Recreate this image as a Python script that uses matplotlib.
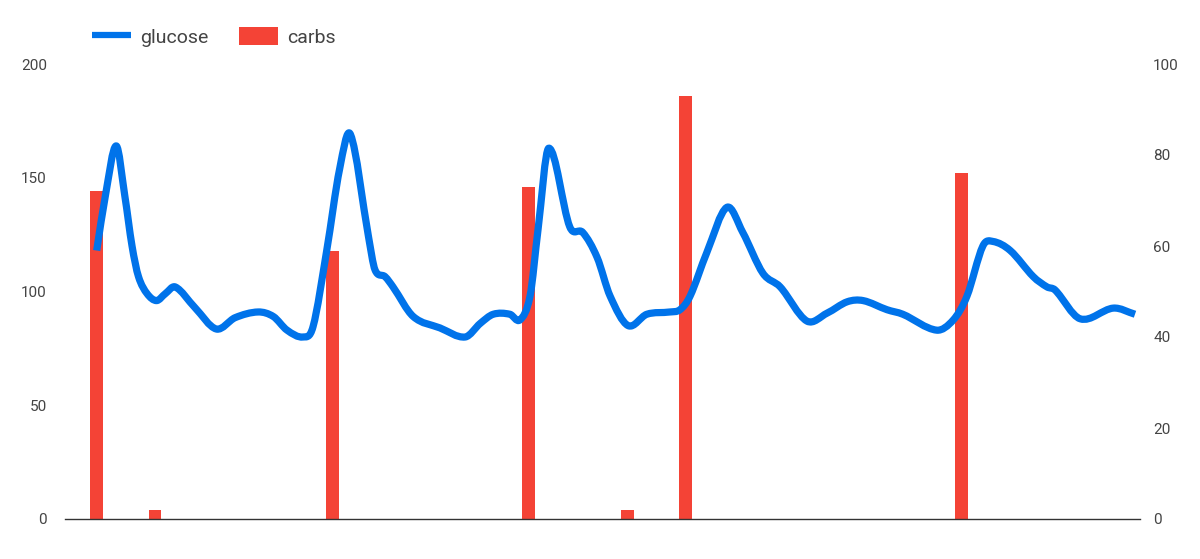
import matplotlib
matplotlib.use("Agg")
import matplotlib.pyplot as plt
from matplotlib.path import Path
from matplotlib.patches import PathPatch, Patch
from matplotlib.lines import Line2D
import numpy as np

plt.rcParams['font.family'] = ['Roboto', 'DejaVu Sans']

# ---- data ----
glucose_minutes = [0, 12, 27, 39, 49, 58, 70, 83, 95, 109, 136, 166, 192, 224, 245,
                   264, 286, 300, 319, 337, 352, 377, 386, 400, 411, 439, 476,
                   511, 532, 550, 573, 587, 601, 612, 627, 656, 674, 694, 712,
                   737, 763, 795, 809, 823, 846, 874, 896, 924, 948, 985, 1013, 1041,
                   1063, 1096, 1118, 1165, 1188, 1207, 1229, 1243, 1267, 1299, 1318,
                   1329, 1364, 1410, 1440]
glucose_values = [118, 142, 164, 142, 120, 106.5, 99, 96, 99, 102, 93, 83.5, 88.5, 91, 89,
                  83, 80, 84.5, 118, 154, 169, 124, 109.5, 106.5, 102, 89, 84,
                  80, 86, 90, 90, 87.5, 98, 127, 163, 128.5, 126, 115, 98,
                  85, 90, 91, 92, 98, 117, 137, 126, 108, 102, 87, 90.5, 95.5,
                  96, 92, 90, 83, 87.5, 98, 120, 122, 118, 106.5, 102,
                  100.7, 88, 92.7, 90]

carbs_minutes = [0, 81, 327, 599, 736, 817, 1199]
carbs_values = [72, 2, 59, 73, 2, 93, 76]

BLUE = '#0073EA'
RED = '#F44336'
TEXT = '#444444'

fig = plt.figure(figsize=(12, 5.59), dpi=100)
ax = fig.add_axes([65/1200, 1-519/559, (1140-65)/1200, (519-64)/559])
ax2 = ax.twinx()

# bars on the right axis
ax2.bar(carbs_minutes, carbs_values, width=17.5, color=RED, zorder=1)
ax2.set_ylim(0, 100)
ax2.set_yticks([0, 20, 40, 60, 80, 100])

# smooth glucose curve (cubic Hermite rendering through the data points)
x = np.asarray(glucose_minutes, float)
y = np.asarray(glucose_values, float)
n = len(x)
m = np.zeros(n)
for i in range(n):
    if i == 0:
        m[i] = (y[1]-y[0])/(x[1]-x[0])
    elif i == n-1:
        m[i] = (y[-1]-y[-2])/(x[-1]-x[-2])
    else:
        m[i] = (y[i+1]-y[i-1])/(x[i+1]-x[i-1])
verts = [(x[0], y[0])]
codes = [Path.MOVETO]
for i in range(n-1):
    dx = x[i+1]-x[i]
    verts += [(x[i]+dx/3, y[i]+m[i]*dx/3), (x[i+1]-dx/3, y[i+1]-m[i+1]*dx/3), (x[i+1], y[i+1])]
    codes += [Path.CURVE4]*3
ax.add_patch(PathPatch(Path(verts, codes), facecolor='none', edgecolor=BLUE,
                       lw=5.2, capstyle='butt', joinstyle='round', zorder=3))
ax.set_zorder(ax2.get_zorder()+1)
ax.patch.set_visible(False)

ax.set_ylim(0, 200)
ax.set_yticks([0, 50, 100, 150, 200])
k = 1440/1038.3
ax.set_xlim((65-96.7)*k, (1140-96.7)*k)
ax.set_xticks([])

for a in (ax, ax2):
    for s in ('top', 'left', 'right', 'bottom'):
        a.spines[s].set_visible(False)
    a.tick_params(axis='y', length=0, labelsize=11, labelcolor=TEXT)
ax.spines['bottom'].set_visible(True)
ax.spines['bottom'].set_color('#333333')
ax.spines['bottom'].set_linewidth(1)
ax.tick_params(axis='y', pad=13)
ax2.tick_params(axis='y', pad=9.5)

handles = [Line2D([], [], color=BLUE, lw=4.5, solid_capstyle='butt'),
           Patch(facecolor=RED, edgecolor='none')]
fig.legend(handles, ['glucose', 'carbs'], loc='center left',
           bbox_to_anchor=(92/1200, 1-37/559), ncol=2, frameon=False,
           fontsize=14, labelcolor=TEXT, handlelength=2.0, handleheight=1.02,
           handletextpad=0.45, columnspacing=1.6, borderpad=0, borderaxespad=0)

fig.savefig('out.png', dpi=100)
